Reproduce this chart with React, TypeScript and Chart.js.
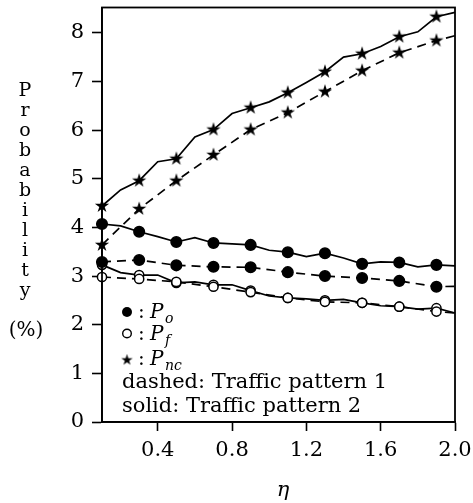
import React, { useEffect, useRef } from "react";
import { Chart, registerables } from "chart.js";

Chart.register(...registerables);

// ---- data ----
const etaFine = [0.1, 0.2, 0.3, 0.4, 0.5, 0.6, 0.7, 0.8, 0.9, 1.0, 1.1, 1.2, 1.3, 1.4, 1.5, 1.6, 1.7, 1.8, 1.9, 2.0];
const etaCoarse = [0.1, 0.3, 0.5, 0.7, 0.9, 1.1, 1.3, 1.5, 1.7, 1.9, 2.0];

// solid: Traffic pattern 2
const pnc2 = [4.44, 4.77, 4.96, 5.35, 5.41, 5.86, 6.01, 6.34, 6.46, 6.58, 6.77, 6.98, 7.2, 7.5, 7.57, 7.72, 7.92, 8.02, 8.33, 8.42];
const po2 = [4.07, 4.03, 3.91, 3.81, 3.7, 3.79, 3.68, 3.66, 3.64, 3.53, 3.49, 3.4, 3.47, 3.37, 3.25, 3.29, 3.28, 3.19, 3.23, 3.21];
const pf2 = [3.23, 3.07, 3.02, 3.02, 2.86, 2.88, 2.82, 2.82, 2.7, 2.59, 2.55, 2.53, 2.5, 2.52, 2.45, 2.39, 2.37, 2.32, 2.34, 2.24];

// dashed: Traffic pattern 1
const pnc1 = [3.64, 4.38, 4.96, 5.49, 6.01, 6.36, 6.79, 7.22, 7.59, 7.84, 7.94];
const po1 = [3.29, 3.33, 3.22, 3.19, 3.18, 3.08, 3.0, 2.96, 2.9, 2.78, 2.79];
const pf1 = [2.98, 2.94, 2.88, 2.78, 2.67, 2.55, 2.47, 2.45, 2.37, 2.27, 2.24];

const xTicks = [0.4, 0.8, 1.2, 1.6, 2.0];
const yTicks = [0, 1, 2, 3, 4, 5, 6, 7, 8];
const yTitleLetters = ["P", "r", "o", "b", "a", "b", "i", "l", "i", "t", "y"];
const yTitleUnit = "(%)";
const xTitle = "η";
const legendDashed = "dashed: Traffic pattern 1";
const legendSolid = "solid: Traffic pattern 2";

const SERIF = '"DejaVu Serif", "Liberation Serif", serif';

function makeStar(size: number): HTMLCanvasElement {
  const c = document.createElement("canvas");
  c.width = size;
  c.height = size;
  const g = c.getContext("2d")!;
  const cx = size / 2;
  const cy = size / 2;
  const R = size / 2 - 0.5;
  const r = R * 0.38;
  g.beginPath();
  for (let i = 0; i < 10; i++) {
    const a = -Math.PI / 2 + (i * Math.PI) / 5;
    const rad = i % 2 ? r : R;
    g.lineTo(cx + rad * Math.cos(a), cy + rad * Math.sin(a));
  }
  g.closePath();
  g.fillStyle = "#000";
  g.fill();
  return c;
}

const toXY = (xs: number[], ys: number[]) => xs.map((x, i) => ({ x, y: ys[i] }));

export default function App() {
  const ref = useRef<HTMLCanvasElement>(null);

  useEffect(() => {
    const star = makeStar(16);
    const smallStar = makeStar(13);
    const solidR = (r: number) => (ctx: any) => (ctx.dataIndex % 2 === 0 ? r : 0);
    const dashedR = (r: number) => (ctx: any) => (ctx.dataIndex < etaCoarse.length - 1 ? r : 0);

    const base = {
      borderColor: "#000",
      borderWidth: 1.7,
      tension: 0,
      clip: false as any,
      pointBorderColor: "#000",
      pointBorderWidth: 1.5,
    };
    const dash = [9, 6];

    const framePlugin = {
      id: "frameAndText",
      afterDraw(chart: any) {
        const { ctx, chartArea } = chart;
        const { left, top, right, bottom } = chartArea;
        ctx.save();
        ctx.strokeStyle = "#000";
        ctx.lineWidth = 1.8;
        ctx.strokeRect(left, top, right - left, bottom - top);

        ctx.fillStyle = "#000";
        // Y title stacked letters
        ctx.font = `19px ${SERIF}`;
        ctx.textAlign = "center";
        ctx.textBaseline = "alphabetic";
        yTitleLetters.forEach((ch, i) => {
          ctx.fillText(ch, 25, 96 + i * 20);
        });
        ctx.font = `20px ${SERIF}`;
        ctx.fillText(yTitleUnit, 26, 336);

        // X title
        ctx.font = `italic 21px ${SERIF}`;
        ctx.textBaseline = "middle";
        ctx.fillText(xTitle, 283, 491);

        // legend
        ctx.textAlign = "left";
        ctx.textBaseline = "alphabetic";
        ctx.beginPath();
        ctx.arc(127, 312, 5, 0, Math.PI * 2);
        ctx.fill();
        ctx.beginPath();
        ctx.arc(127, 333.5, 4.3, 0, Math.PI * 2);
        ctx.lineWidth = 1.4;
        ctx.stroke();
        ctx.drawImage(smallStar, 127 - smallStar.width / 2, 360 - smallStar.height / 2);

        const rows: [number, string][] = [
          [318, "o"],
          [340, "f"],
          [365, "nc"],
        ];
        rows.forEach(([by, sub]) => {
          ctx.font = `20px ${SERIF}`;
          ctx.fillText(":", 138, by);
          ctx.font = `italic 20px ${SERIF}`;
          ctx.fillText("P", 150, by);
          ctx.font = `italic 14px ${SERIF}`;
          ctx.fillText(sub, 165, by + 5);
        });

        ctx.font = `20px ${SERIF}`;
        const w = ctx.measureText(legendDashed).width;
        const fs = (20 * 265) / w;
        ctx.font = `${fs.toFixed(2)}px ${SERIF}`;
        ctx.fillText(legendDashed, 122, 388);
        ctx.fillText(legendSolid, 122, 412);
        ctx.restore();
      },
    };

    const chart = new Chart(ref.current!, {
      type: "line",
      data: {
        datasets: [
          {
            ...base,
            label: "Pnc2",
            data: toXY(etaFine, pnc2),
            pointStyle: star as any,
            pointRadius: solidR(6) as any,
          },
          {
            ...base,
            label: "Pnc1",
            data: toXY(etaCoarse, pnc1),
            borderDash: dash,
            pointStyle: star as any,
            pointRadius: dashedR(6) as any,
          },
          {
            ...base,
            label: "Po2",
            data: toXY(etaFine, po2),
            pointStyle: "circle",
            pointBackgroundColor: "#000",
            pointRadius: solidR(5.3) as any,
          },
          {
            ...base,
            label: "Po1",
            data: toXY(etaCoarse, po1),
            borderDash: dash,
            pointStyle: "circle",
            pointBackgroundColor: "#000",
            pointRadius: dashedR(5.3) as any,
          },
          {
            ...base,
            label: "Pf1",
            data: toXY(etaCoarse, pf1),
            borderDash: dash,
            pointStyle: "circle",
            pointBackgroundColor: "#fff",
            pointRadius: dashedR(4.6) as any,
          },
          {
            ...base,
            label: "Pf2",
            data: toXY(etaFine, pf2),
            pointStyle: "circle",
            pointBackgroundColor: "#fff",
            pointRadius: solidR(4.6) as any,
          },
        ],
      },
      options: {
        responsive: false,
        animation: false,
        layout: { padding: { top: 7, right: 18, left: 0, bottom: 0 } },
        plugins: { legend: { display: false }, tooltip: { enabled: false } },
        scales: {
          x: {
            type: "linear",
            min: 0.1,
            max: 2.0,
            afterBuildTicks: (s: any) => {
              s.ticks = xTicks.map((v) => ({ value: v }));
            },
            afterFit: (s: any) => {
              s.height = 81;
              s.paddingLeft = 0;
              s.paddingRight = 0;
            },
            grid: {
              display: true,
              drawOnChartArea: false,
              drawTicks: true,
              tickLength: 9,
              tickColor: "#000",
              tickWidth: 1.6,
            },
            border: { display: true, color: "#000", width: 1.8 },
            ticks: {
              color: "#000",
              font: { family: SERIF, size: 21 },
              padding: 7,
              maxRotation: 0,
              callback: (v: any) => Number(v).toFixed(1),
            },
          },
          y: {
            type: "linear",
            min: 0,
            max: 8.52,
            afterBuildTicks: (s: any) => {
              s.ticks = yTicks.map((v) => ({ value: v }));
            },
            afterFit: (s: any) => {
              s.width = 102;
              s.paddingTop = 0;
              s.paddingBottom = 0;
            },
            grid: {
              display: true,
              drawOnChartArea: false,
              drawTicks: true,
              tickLength: 10,
              tickColor: "#000",
              tickWidth: 1.6,
            },
            border: { display: true, color: "#000", width: 1.8 },
            ticks: {
              color: "#000",
              font: { family: SERIF, size: 21 },
              padding: 8,
              callback: (v: any) => String(v),
            },
          },
        },
      },
      plugins: [framePlugin],
    });
    return () => chart.destroy();
  }, []);

  return (
    <div style={{ position: "fixed", left: 0, top: 0, width: 473, height: 503, background: "#fff" }}>
      <canvas ref={ref} width={473} height={503} style={{ display: "block" }} />
    </div>
  );
}
